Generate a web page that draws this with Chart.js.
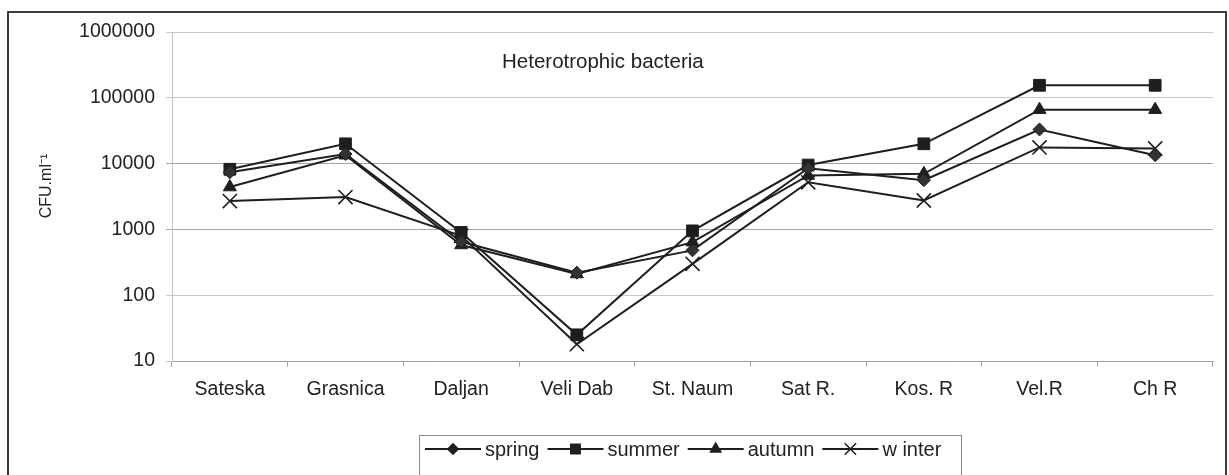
<!DOCTYPE html>
<html lang="en">
  <head>
    <meta charset="UTF-8" />
    <meta name="viewport" content="width=device-width, initial-scale=1.0" />
    <title>Heterotrophic bacteria</title>
    <script src="https://cdn.jsdelivr.net/npm/chart.js@4.4.1/dist/chart.umd.min.js"></script>
    <style>
      body { margin: 0; background: #fff; }
    </style>
  </head>
  <body>
    <canvas id="chart" width="1229" height="475"></canvas>

    <script>
      const sites = ["Sateska", "Grasnica", "Daljan", "Veli Dab", "St. Naum", "Sat R.", "Kos. R", "Vel.R", "Ch R"];
      const spring = [7400, 14000, 650, 220, 480, 8500, 5600, 33000, 13400];
      const summer = [8200, 20000, 900, 25, 950, 9500, 20000, 155000, 155000];
      const autumn = [4400, 13400, 580, 210, 640, 6600, 7000, 66000, 66000];
      const winter = [2700, 3100, 800, 18, 300, 5200, 2750, 17600, 17000];
      const seasons = ["spring", "summer", "autumn", "w inter"];
      const yTicks = [10, 100, 1000, 10000, 100000, 1000000];
      const chartTitle = "Heterotrophic bacteria";
      const yTitle = "CFU.ml\u207B\u00B9";

      const FONT = "'Liberation Sans', Arial, sans-serif";
      const INK = "#1e1e1e";
      const markers = [
        { style: "rectRot", radius: 6.5 },
        { style: "rect", radius: 8.3 },
        { style: "triangle", radius: 7.5 },
        { style: "crossRot", radius: 10 },
      ];

      const series = [spring, summer, autumn, winter];

      // border, titles and boxed legend drawn on top of the chart
      const extras = {
        id: "extras",
        afterDraw(chart) {
          const ctx = chart.ctx;
          const area = chart.chartArea;
          ctx.save();

          ctx.strokeStyle = "#3c3c3c";
          ctx.lineWidth = 2;
          ctx.strokeRect(8, 12, 1218, 480);

          ctx.fillStyle = "#222";
          ctx.font = "20.5px " + FONT;
          ctx.textBaseline = "alphabetic";
          ctx.fillText(chartTitle, area.left + 330, area.top + 36);

          // y axis title
          ctx.save();
          ctx.translate(47, 186);
          ctx.rotate(-Math.PI / 2);
          ctx.font = "16px " + FONT;
          ctx.textAlign = "center";
          ctx.textBaseline = "middle";
          ctx.fillText(yTitle, 0, 0);
          ctx.restore();

          ctx.strokeStyle = "#8a8a8a";
          ctx.lineWidth = 1;
          ctx.strokeRect(419.5, 435.5, 542, 60);

          ctx.font = "20px " + FONT;
          let x = 425;
          const y = 449;
          chart.data.datasets.forEach((ds, i) => {
            ctx.strokeStyle = INK;
            ctx.fillStyle = INK;
            ctx.lineWidth = 2;
            ctx.beginPath();
            ctx.moveTo(x, y);
            ctx.lineTo(x + 56, y);
            ctx.stroke();
            ctx.lineWidth = 1.5;
            Chart.helpers.drawPoint(ctx, {
              pointStyle: markers[i].style,
              radius: markers[i].radius * 0.8,
              rotation: 0,
              borderWidth: 1.5,
            }, x + 28, y);
            ctx.fillStyle = "#222";
            ctx.fillText(ds.label, x + 60, y + 7);
            x += 60 + ctx.measureText(ds.label).width + 8;
          });

          ctx.restore();
        },
      };

      const ctx = document.getElementById("chart").getContext("2d");

      const myChart = new Chart(ctx, {
        type: "line",
        data: {
          labels: sites,
          datasets: series.map((values, i) => ({
            label: seasons[i],
            data: values,
            borderColor: INK,
            backgroundColor: i === 0 ? "#333" : INK,
            borderWidth: 2,
            pointStyle: markers[i].style,
            pointRadius: markers[i].radius,
            pointBorderWidth: i === 3 ? 1.6 : 1,
            pointBorderColor: INK,
            pointBackgroundColor: i === 0 ? "#333" : INK,
            tension: 0,
            fill: false,
          })),
        },
        options: {
          responsive: false,
          animation: false,
          layout: { padding: { top: 32, right: 16, bottom: 74, left: 0 } },
          plugins: {
            legend: { display: false },
            tooltip: { enabled: false },
          },
          scales: {
            x: {
              offset: true,
              afterFit: (scale) => { scale.height = 40; },
              grid: {
                offset: true,
                drawOnChartArea: false,
                color: "#a8a8a8",
                tickLength: 6,
              },
              border: { color: "#a0a0a0", width: 1 },
              ticks: {
                color: "#222",
                padding: 11,
                maxRotation: 0,
                font: { family: FONT, size: 19.5 },
              },
            },
            y: {
              type: "logarithmic",
              min: 10,
              max: 1000000,
              afterFit: (scale) => { scale.width = 172; },
              afterBuildTicks: (scale) => {
                scale.ticks = yTicks.map((v) => ({ value: v }));
              },
              grid: {
                tickLength: 6,
                color: (c) => (c.tick && (c.tick.value === 1000 || c.tick.value === 10000) ? "#a4a4a4" : "#c8c8c8"),
              },
              border: { color: "#c4c4c4", width: 1 },
              ticks: {
                color: "#222",
                padding: 11,
                font: { family: FONT, size: 19.5 },
                callback: (v) => String(v),
              },
            },
          },
        },
        plugins: [extras],
      });
    </script>
  </body>
</html>
